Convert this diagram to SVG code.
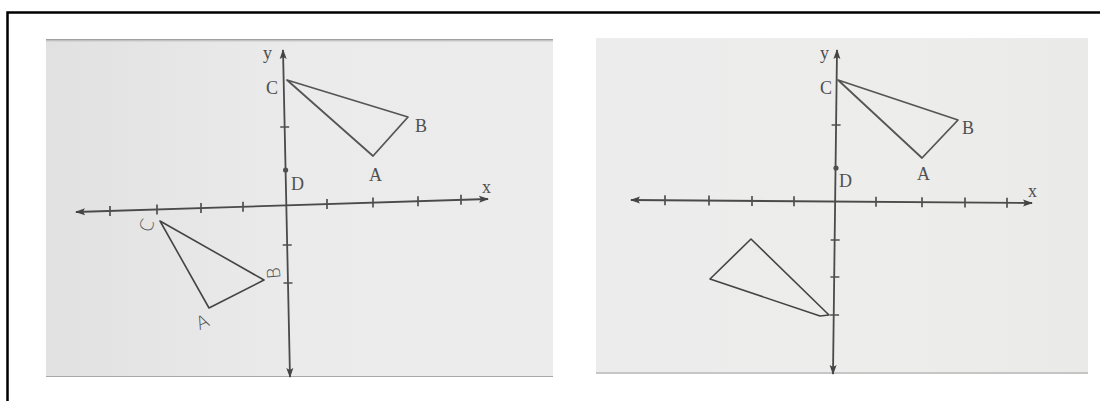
<svg xmlns="http://www.w3.org/2000/svg" width="1100" height="401" viewBox="0 0 1100 401">
<defs>
<linearGradient id="bgL" x1="0" y1="0" x2="1" y2="0">
<stop offset="0" stop-color="#e1e1e1"/>
<stop offset="0.5" stop-color="#ebebeb"/>
<stop offset="1" stop-color="#ececec"/>
</linearGradient>
<linearGradient id="bgR" x1="0" y1="0" x2="1" y2="0">
<stop offset="0" stop-color="#ececec"/>
<stop offset="0.6" stop-color="#ededec"/>
<stop offset="1" stop-color="#eaeae9"/>
</linearGradient>
<linearGradient id="topL" x1="0" y1="0" x2="0" y2="1">
<stop offset="0" stop-color="#8a8a8a"/>
<stop offset="1" stop-color="#e4e4e4" stop-opacity="0"/>
</linearGradient>
<marker id="ah" viewBox="0 0 10 10" refX="9" refY="5" markerWidth="10" markerHeight="10" orient="auto-start-reverse" markerUnits="userSpaceOnUse">
<path d="M0,1.5 L10,5 L0,8.5 L2,5 Z" fill="#444"/>
</marker>
<style>
.ax{stroke:#4a4a4a;stroke-width:1.8;fill:none}
.tk{stroke:#505050;stroke-width:1.7}
.tri{stroke:#555;stroke-width:1.8;fill:none;stroke-linejoin:round}
.hand{stroke:#444;stroke-width:1.6;fill:none;stroke-linejoin:round}
.lb{font-family:"Liberation Serif","DejaVu Serif",serif;font-size:18px;fill:#505050}
.hl{font-family:"DejaVu Sans","Liberation Sans",sans-serif;font-size:18px;fill:#505050;font-weight:300}
</style>
</defs>
<rect width="1100" height="401" fill="#ffffff"/>
<path d="M7.5,401 V12.5 H1100" fill="none" stroke="#000" stroke-width="2.5"/>

<g id="photo-left">
<rect x="46" y="39" width="507" height="338" fill="url(#bgL)"/>
<rect x="46" y="39" width="507" height="4" fill="url(#topL)"/>
<line x1="46" y1="376.5" x2="553" y2="376.5" stroke="#a8a8a8" stroke-width="1"/>
</g>

<g id="photo-right">
<rect x="596" y="38" width="492" height="336" fill="url(#bgR)"/>
<line x1="596" y1="373" x2="1088" y2="373" stroke="#a0a0a0" stroke-width="1.2"/>
</g>

<g id="connectors">
<line class="ax" x1="283" y1="50" x2="290" y2="377" marker-start="url(#ah)" marker-end="url(#ah)"/>
<line class="ax" x1="76" y1="212" x2="488" y2="199" marker-start="url(#ah)" marker-end="url(#ah)"/>
<line class="ax" x1="837" y1="50" x2="833" y2="374" marker-start="url(#ah)" marker-end="url(#ah)"/>
<line class="ax" x1="631" y1="200" x2="1032" y2="203" marker-start="url(#ah)" marker-end="url(#ah)"/>
</g>

<g id="ticks-left">
<path class="tk" d="M110,206 V216 M157,204.5 V214.5 M201,203 V213 M243,201.7 V211.7 M327,199 V209 M373,197.6 V207.6 M418,196.2 V206.2 M461,194.8 V204.8 M280.2,127 H289.2 M282.7,245 H291.7 M283.5,283 H292.5"/>
<circle cx="285.6" cy="170" r="2.6" fill="#505050"/>
</g>

<g id="ticks-right">
<path class="tk" d="M665,195.2 V205.2 M709,195.6 V205.6 M752,195.9 V205.9 M794,196.2 V206.2 M876,196.8 V206.8 M922,197.2 V207.2 M965,197.5 V207.5 M1007,197.8 V207.8 M831.6,125 H840.6 M830.7,240 H839.7 M830.4,277 H839.4 M830.1,315 H839.1"/>
<circle cx="836" cy="168" r="2.6" fill="#505050"/>
</g>

<g id="triangle-left-ABC">
<path class="tri" d="M287,80 L408,117 L373,156 Z"/>
</g>
<g id="triangle-left-image">
<path class="hand" d="M160,221 L264,280 L209,308 Z"/>
</g>
<g id="triangle-right-ABC">
<path class="tri" d="M838,80 L958,120 L922,158 Z"/>
</g>
<g id="triangle-right-image">
<path class="hand" d="M751,239 L829,315 L820,316 L710,279 Z"/>
</g>

<g id="labels-left">
<text class="lb" x="263" y="59">y</text>
<text class="lb" x="266" y="94">C</text>
<text class="lb" x="415" y="132">B</text>
<text class="lb" x="369" y="181">A</text>
<text class="lb" x="291" y="190">D</text>
<text class="lb" x="482" y="193">x</text>
<text class="hl" transform="translate(148,226) rotate(-70)" text-anchor="middle" dominant-baseline="middle">C</text>
<text class="hl" transform="translate(275,273) rotate(-95)" text-anchor="middle" dominant-baseline="middle">B</text>
<text class="hl" transform="translate(203,323) rotate(-25)" text-anchor="middle" dominant-baseline="middle">A</text>
</g>

<g id="labels-right">
<text class="lb" x="820" y="59">y</text>
<text class="lb" x="820" y="94">C</text>
<text class="lb" x="962" y="134">B</text>
<text class="lb" x="917" y="180">A</text>
<text class="lb" x="839" y="187">D</text>
<text class="lb" x="1028" y="197">x</text>
</g>
</svg>
